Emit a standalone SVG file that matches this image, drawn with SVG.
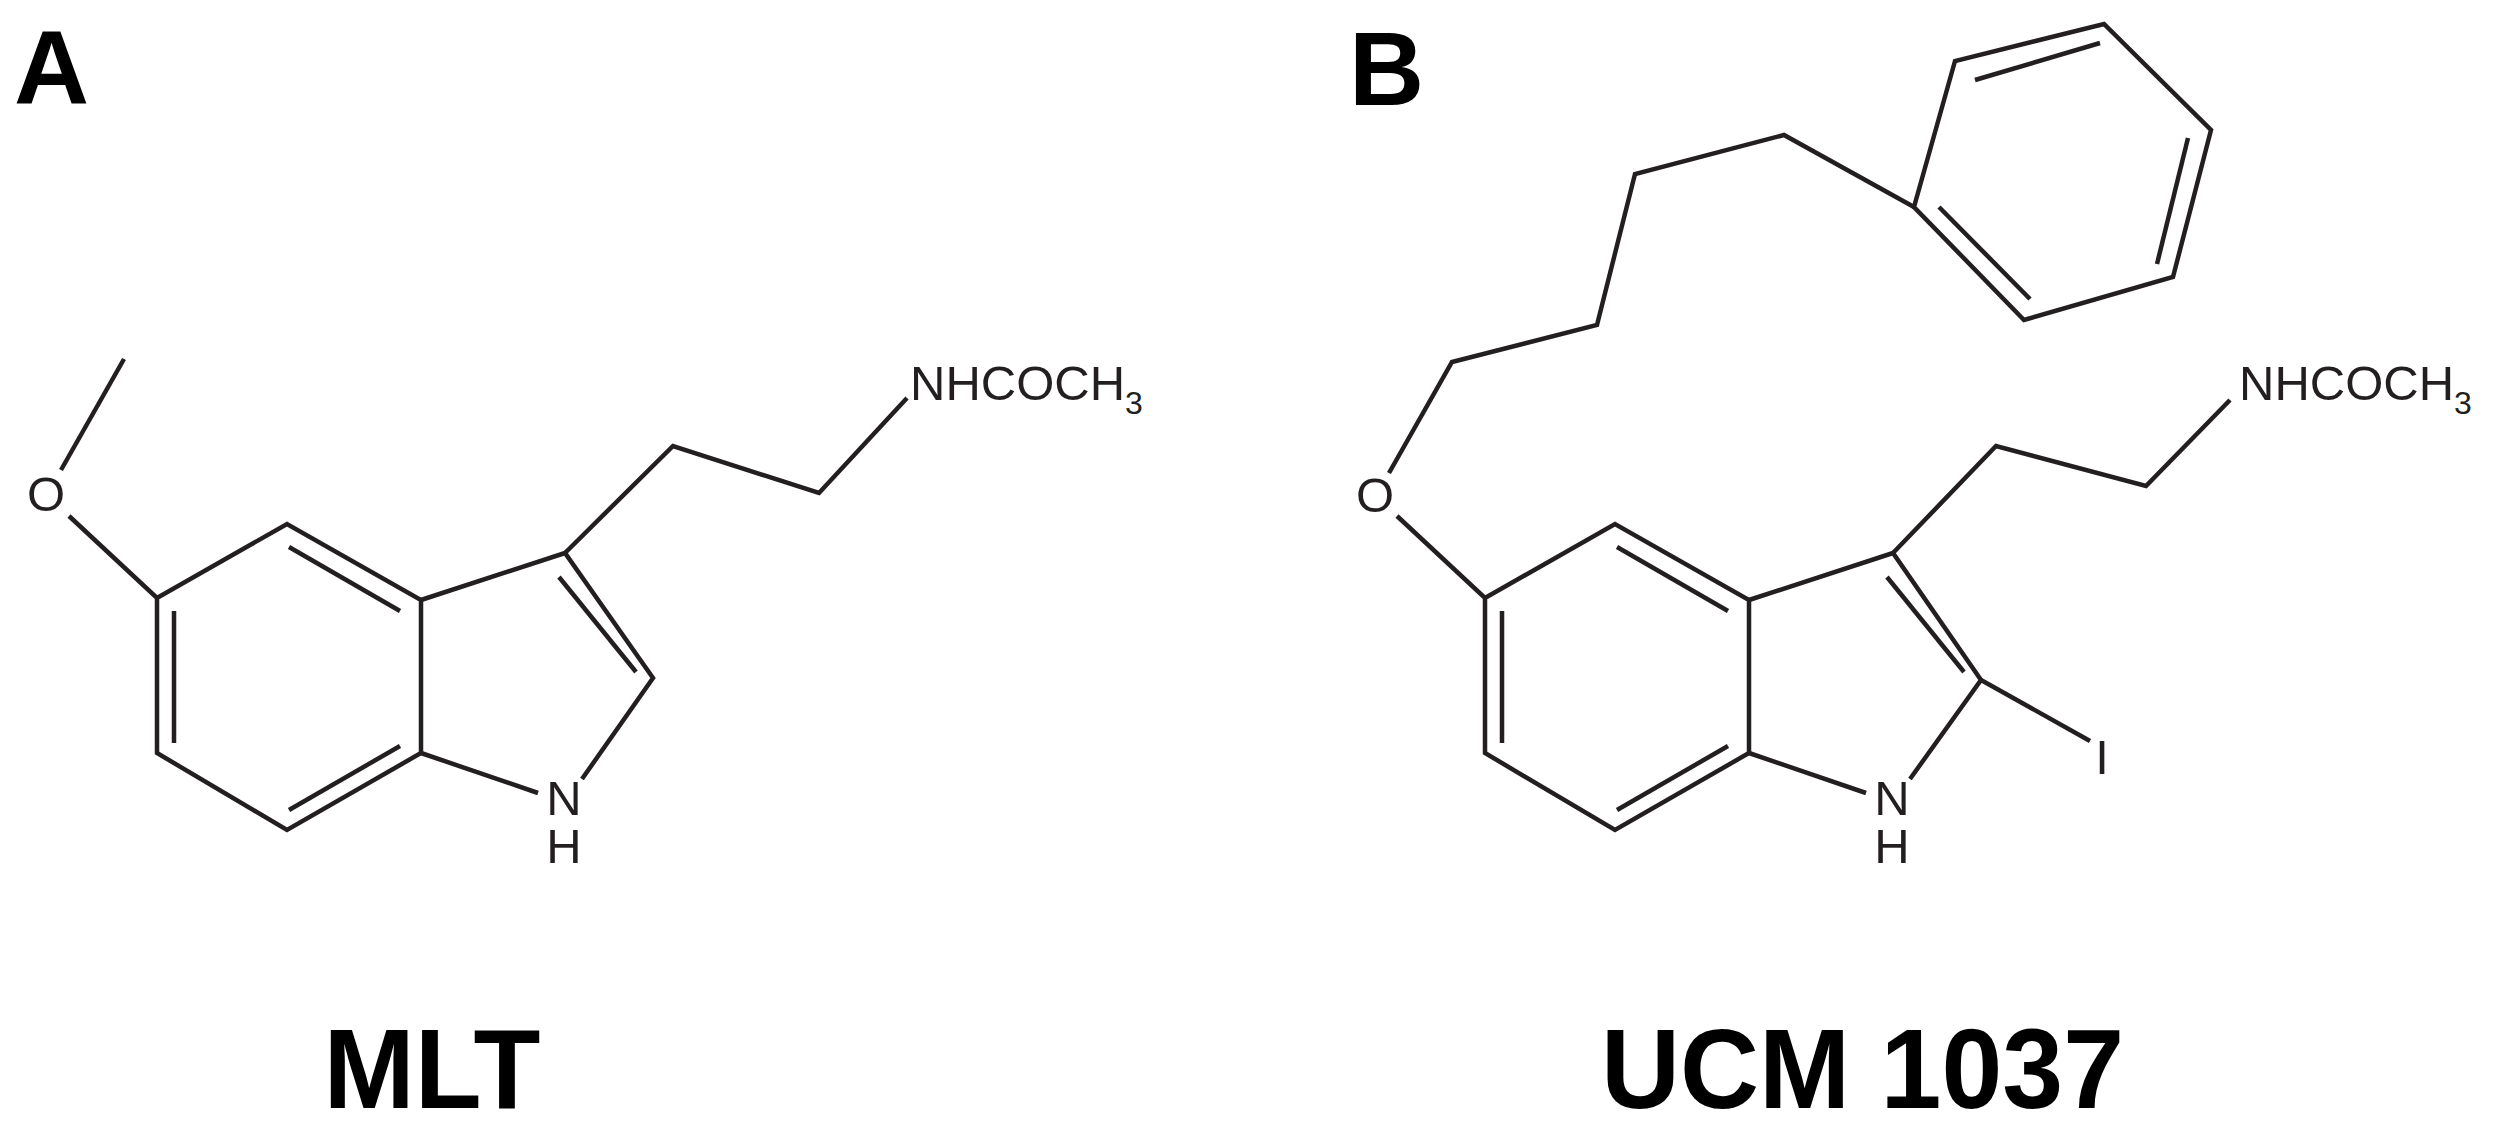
<svg xmlns="http://www.w3.org/2000/svg" width="2495" height="1131" viewBox="0 0 2495 1131">
<style>
.b{fill:none;stroke:#231f20;stroke-width:4.5;stroke-linejoin:miter;stroke-linecap:butt}
.a{font-family:"Liberation Sans",Arial,sans-serif;font-size:49px;fill:#231f20}
.s{font-size:32px}
.t{font-family:"Liberation Sans",Arial,sans-serif;font-weight:bold;fill:#000}
</style>
<rect width="2495" height="1131" fill="#fff"/>
<text class="t" x="14" y="103" font-size="104">A</text>
<text class="t" x="1349" y="105" font-size="104">B</text>
<g id="mlt">
<polyline class="b" points="124,359 61,470"/>
<polyline class="b" points="69,516 157,598 287,524 421,600 421,753 287,830 157,753 157,598"/>
<line class="b" x1="289" y1="547" x2="400" y2="611"/>
<line class="b" x1="174" y1="611" x2="174" y2="743"/>
<line class="b" x1="289" y1="810" x2="400" y2="746"/>
<polyline class="b" points="421,600 565,553 653,678 582,779"/>
<line class="b" x1="421" y1="753" x2="538" y2="793"/>
<line class="b" x1="559" y1="577" x2="636" y2="672"/>
<polyline class="b" points="565,553 673,446 819,493 907,398"/>
<text class="a" x="46" y="511" text-anchor="middle">O</text>
<text class="a" x="564" y="815" text-anchor="middle">N</text>
<text class="a" x="564" y="863" text-anchor="middle">H</text>
<text class="a" x="910" y="400">NHCOCH<tspan class="s" dy="14">3</tspan></text>
<text class="t" x="432" y="1108" font-size="114" text-anchor="middle" textLength="217" lengthAdjust="spacingAndGlyphs">MLT</text>
</g>
<g id="ucm1037">
<polyline class="b" points="1389,473 1452,362 1597,325 1635,174 1784,135 1914,207"/>
<polygon class="b" points="1914,207 1955,61 2104,24 2211,130 2173,277 2024,320"/>
<line class="b" x1="1939" y1="207" x2="2030" y2="299"/>
<line class="b" x1="1975" y1="80" x2="2100" y2="43"/>
<line class="b" x1="2188" y1="138" x2="2157" y2="264"/>
<polyline class="b" points="1397,516 1485,598 1615,524 1749,600 1749,753 1615,830 1485,753 1485,598"/>
<line class="b" x1="1617" y1="547" x2="1728" y2="611"/>
<line class="b" x1="1502" y1="611" x2="1502" y2="743"/>
<line class="b" x1="1617" y1="810" x2="1728" y2="746"/>
<polyline class="b" points="1749,600 1893,553 1981,680 1910,779"/>
<line class="b" x1="1749" y1="753" x2="1866" y2="793"/>
<line class="b" x1="1887" y1="577" x2="1964" y2="672"/>
<line class="b" x1="1981" y1="680" x2="2090" y2="741"/>
<polyline class="b" points="1893,553 1996,446 2146,486 2230,400"/>
<text class="a" x="1375" y="512" text-anchor="middle">O</text>
<text class="a" x="1892" y="815" text-anchor="middle">N</text>
<text class="a" x="1892" y="863" text-anchor="middle">H</text>
<text class="a" x="2102" y="774" text-anchor="middle">I</text>
<text class="a" x="2239" y="400">NHCOCH<tspan class="s" dy="14">3</tspan></text>
<text class="t" x="1601" y="1108" font-size="114" textLength="523" lengthAdjust="spacingAndGlyphs">UCM 1037</text>
</g>
</svg>
